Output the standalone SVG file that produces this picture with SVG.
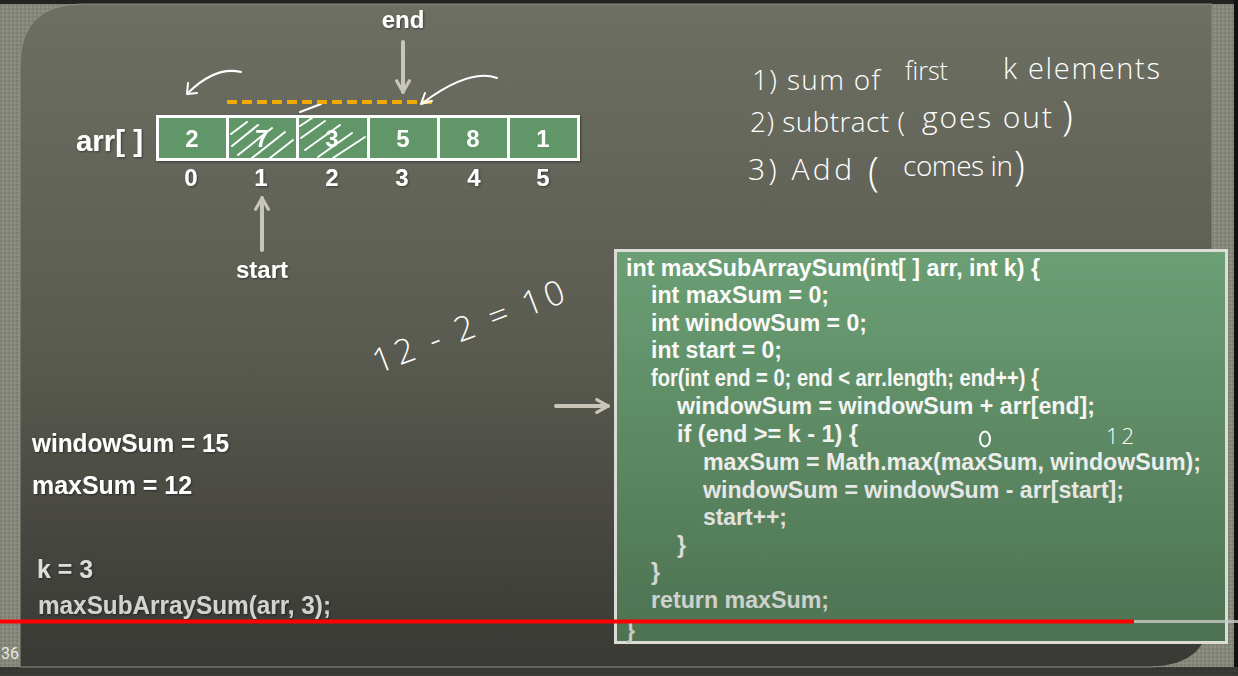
<svg xmlns="http://www.w3.org/2000/svg" width="1238" height="676" viewBox="0 0 1238 676">
  <defs>
    <pattern id="tex" width="4" height="4" patternUnits="userSpaceOnUse">
      <rect width="4" height="4" fill="#86887b"/>
      <rect width="2" height="2" fill="#7c7e71"/>
      <rect x="2" y="2" width="2" height="2" fill="#8e9083"/>
    </pattern>
    <pattern id="texdark" width="4" height="4" patternUnits="userSpaceOnUse">
      <rect width="4" height="4" fill="#3a3a36"/>
      <rect width="2" height="2" fill="#33332f"/>
    </pattern>
    <linearGradient id="panelg" x1="0" y1="0" x2="0" y2="1">
      <stop offset="0" stop-color="#6e6f63"/>
      <stop offset="0.5" stop-color="#5b5c51"/>
      <stop offset="1" stop-color="#393935"/>
    </linearGradient>
    <linearGradient id="codeg" x1="0" y1="0" x2="0" y2="1">
      <stop offset="0" stop-color="#6b9f74"/>
      <stop offset="1" stop-color="#4d7251"/>
    </linearGradient>
    <linearGradient id="codetext" gradientUnits="userSpaceOnUse" x1="0" y1="250" x2="0" y2="645">
      <stop offset="0" stop-color="#ffffff"/>
      <stop offset="0.45" stop-color="#f4f4f2"/>
      <stop offset="1" stop-color="#c4c8c4"/>
    </linearGradient>
    <marker id="chev" viewBox="0 0 10 10" refX="8" refY="5" markerWidth="4" markerHeight="4" orient="auto" markerUnits="strokeWidth">
      <path d="M1,1 L8,5 L1,9" fill="none" stroke="#c9c6b9" stroke-width="2" stroke-linecap="round" stroke-linejoin="round"/>
    </marker>
    <filter id="sh" x="-10%" y="-10%" width="120%" height="130%">
      <feDropShadow dx="1" dy="1" stdDeviation="0.8" flood-color="#000" flood-opacity="0.45"/>
    </filter>
  </defs>
  <style>
    .b{font-family:"Liberation Sans",Arial,sans-serif;font-weight:bold;fill:#ffffff}
    .code{font-family:"Liberation Sans",Arial,sans-serif;font-weight:bold;font-size:23px;fill:url(#codetext)}
    .hand{font-family:"Open Sans","DejaVu Sans",sans-serif;font-weight:300;fill:#ffffff}
    .ptr{stroke:#c9c6b9;stroke-width:4;fill:none;stroke-linecap:round}
    .hw{stroke:#ffffff;stroke-width:2;fill:none;stroke-linecap:round;stroke-linejoin:round}
    .cell{fill:#609668;stroke:#ffffff;stroke-width:3}
  </style>

  <!-- background -->
  <rect width="1238" height="676" fill="url(#tex)"/>
  <rect x="0" y="0" width="1238" height="4" fill="#222222"/>
  <rect x="1234" y="0" width="4" height="676" fill="#111111"/>
  <rect x="0" y="667" width="1238" height="9" fill="url(#texdark)"/>
  <path d="M82,4 H1212 V606 Q1212,667 1150,667 H20 V66 Q20,4 82,4 Z" fill="url(#panelg)" stroke="#8d8f82" stroke-width="1"/>

  <!-- array -->
  <g id="array" filter="url(#sh)">
    <rect x="156" y="115" width="424" height="46" fill="#ffffff"/>
    <rect class="cell" x="157.5" y="116.5" width="70" height="43"/>
    <rect class="cell" x="227.5" y="116.5" width="70" height="43"/>
    <rect class="cell" x="297.5" y="116.5" width="71" height="43"/>
    <rect class="cell" x="368.5" y="116.5" width="70" height="43"/>
    <rect class="cell" x="438.5" y="116.5" width="70" height="43"/>
    <rect class="cell" x="508.5" y="116.5" width="70" height="43"/>
    <g class="b" font-size="24" text-anchor="middle">
      <text x="192" y="147">2</text>
      <text x="262" y="147">7</text>
      <text x="332" y="147">3</text>
      <text x="403" y="147">5</text>
      <text x="473" y="147">8</text>
      <text x="543" y="147">1</text>
    </g>
  </g>
  <g id="indices" class="b" font-size="24" text-anchor="middle" filter="url(#sh)">
    <text x="191" y="186">0</text>
    <text x="261" y="186">1</text>
    <text x="332" y="186">2</text>
    <text x="402" y="186">3</text>
    <text x="474" y="186">4</text>
    <text x="543" y="186">5</text>
  </g>
  <g id="arrlabel" filter="url(#sh)">
    <text class="b" x="76" y="151" font-size="30" textLength="67" lengthAdjust="spacingAndGlyphs">arr[ ]</text>
  </g>

  <!-- hatching -->
  <g id="hatch" class="hw" stroke-width="1.3">
    <path d="M231,134 L247,122"/>
    <path d="M232,146 L258,125"/>
    <path d="M238,155 L272,128"/>
    <path d="M252,158 L285,132"/>
    <path d="M270,158 L293,140"/>
    <path d="M300,126 L312,118"/>
    <path d="M301,138 L325,121"/>
    <path d="M305,150 L340,125"/>
    <path d="M318,157 L352,133"/>
    <path d="M333,158 L365,137"/>
    <path d="M300,112 L321,104"/>
  </g>

  <!-- pointers -->
  <g id="end">
    <text class="b" x="403" y="28" font-size="24" text-anchor="middle" filter="url(#sh)">end</text>
  </g>
  <g id="start">
    <text class="b" x="262" y="278" font-size="24" text-anchor="middle" filter="url(#sh)" textLength="52" lengthAdjust="spacingAndGlyphs">start</text>
  </g>
  <g id="connectors">
    <path class="ptr" d="M403,42 V92" marker-end="url(#chev)"/>
    <path class="ptr" d="M262,250 V198" marker-end="url(#chev)"/>
    <path class="ptr" d="M556,406 H608" marker-end="url(#chev)"/>
    <path d="M227,102 H436" stroke="#f2a900" stroke-width="4" stroke-dasharray="10,5"/>
    <path class="hw" d="M241,72 Q216,66 189,92"/>
    <path class="hw" d="M188,83 L187,94 L197,93"/>
    <path class="hw" d="M497,78 Q470,68 424,102"/>
    <path class="hw" d="M425,93 L421,104 L432,101"/>
  </g>

  <!-- handwritten notes -->
  <g id="notes" class="hand">
    <text x="752" y="90" font-size="28" textLength="128" lengthAdjust="spacing">1) sum of</text>
    <text x="905" y="80" font-size="25">first</text>
    <text x="1003" y="79" font-size="29" textLength="157" lengthAdjust="spacing">k elements</text>
    <text x="750" y="132" font-size="28" textLength="155" lengthAdjust="spacing">2) subtract (</text>
    <text x="922" y="128" font-size="30" textLength="130" lengthAdjust="spacing">goes out</text>
    <text x="1062" y="130" font-size="40">)</text>
    <text x="748" y="180" font-size="30" textLength="104" lengthAdjust="spacing">3) Add</text>
    <text x="868" y="186" font-size="40">(</text>
    <text x="903" y="176" font-size="28" textLength="110" lengthAdjust="spacing">comes in</text>
    <text x="1014" y="180" font-size="40">)</text>
  </g>
  <g id="calc" class="hand">
    <text x="0" y="0" font-size="34" transform="translate(378,374) rotate(-21)" letter-spacing="4">12 - 2 = 10</text>
  </g>

  <!-- code box -->
  <g id="code">
    <rect x="615.5" y="250.5" width="611" height="392" fill="url(#codeg)" stroke="#dcdcd6" stroke-width="3"/>
    <text class="code" x="626" y="276" textLength="414" lengthAdjust="spacingAndGlyphs">int maxSubArraySum(int[ ] arr, int k) {</text>
    <text class="code" x="651" y="303" textLength="178" lengthAdjust="spacingAndGlyphs">int maxSum = 0;</text>
    <text class="code" x="651" y="331" textLength="216" lengthAdjust="spacingAndGlyphs">int windowSum = 0;</text>
    <text class="code" x="651" y="358" textLength="131" lengthAdjust="spacingAndGlyphs">int start = 0;</text>
    <text class="code" x="651" y="386" textLength="388" lengthAdjust="spacingAndGlyphs">for(int end = 0; end &lt; arr.length; end++) {</text>
    <text class="code" x="677" y="414" textLength="418" lengthAdjust="spacingAndGlyphs">windowSum = windowSum + arr[end];</text>
    <text class="code" x="677" y="442" textLength="181" lengthAdjust="spacingAndGlyphs">if (end &gt;= k - 1) {</text>
    <text class="code" x="703" y="470" textLength="498" lengthAdjust="spacingAndGlyphs">maxSum = Math.max(maxSum, windowSum);</text>
    <text class="code" x="703" y="498" textLength="421" lengthAdjust="spacingAndGlyphs">windowSum = windowSum - arr[start];</text>
    <text class="code" x="703" y="525" textLength="84" lengthAdjust="spacingAndGlyphs">start++;</text>
    <text class="code" x="677" y="553">}</text>
    <text class="code" x="651" y="580">}</text>
    <text class="code" x="651" y="608" textLength="178" lengthAdjust="spacingAndGlyphs">return maxSum;</text>
    <text class="code" x="626" y="638">}</text>
    <ellipse class="hw" cx="985" cy="439" rx="5" ry="7.5" stroke-width="1.5"/>
    <text class="hand" x="1106" y="444" font-size="22" letter-spacing="3">12</text>
  </g>

  <!-- variables -->
  <g id="vars" filter="url(#sh)">
    <text class="b" x="32" y="452" font-size="26" textLength="197" lengthAdjust="spacingAndGlyphs" fill="#f4f4f2">windowSum = 15</text>
    <text class="b" x="32" y="494" font-size="26" textLength="160" lengthAdjust="spacingAndGlyphs" fill="#f0f0ee">maxSum = 12</text>
    <text class="b" x="37" y="578" font-size="26" textLength="56" lengthAdjust="spacingAndGlyphs" style="fill:#dcdcda">k = 3</text>
    <text class="b" x="38" y="614" font-size="26" textLength="293" lengthAdjust="spacingAndGlyphs" style="fill:#d2d2d0">maxSubArraySum(arr, 3);</text>
  </g>

  <!-- video progress bar -->
  <g id="progress">
    <rect x="1134" y="620" width="104" height="3" fill="#c8c8c4" opacity="0.8"/>
    <rect x="0" y="619.5" width="1134" height="4" fill="#ff0000"/>
    <text x="1" y="659" font-family="Roboto,'Liberation Sans',sans-serif" font-size="16" fill="#e8e8e8">36</text>
  </g>
</svg>
